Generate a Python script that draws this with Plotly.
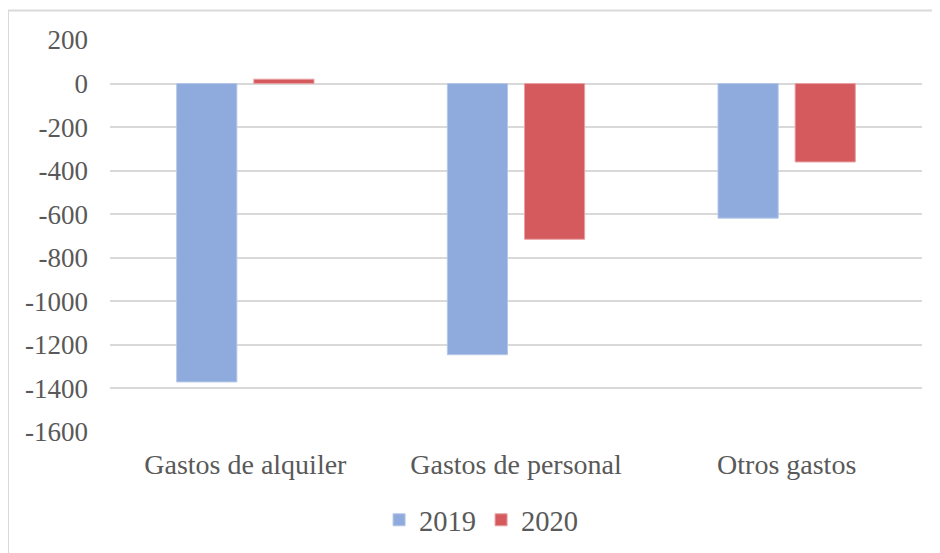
import plotly.graph_objects as go

categories = ["Gastos de alquiler", "Gastos de personal", "Otros gastos"]
series_names = ["2019", "2020"]
values_2019 = [-1370, -1245, -618]
values_2020 = [20, -715, -360]
tick_vals = [200, 0, -200, -400, -600, -800, -1000, -1200, -1400, -1600]
tick_text = ["200", "0", "-200", "-400", "-600", "-800", "-1000", "-1200", "-1400", "-1600"]

font_family = "Liberation Serif, Times New Roman, serif"
text_color = "#595959"

# page content is offset by the 8px body margin, so layout uses figure coords
L, R, T, B = 102, 26, 31.5, 128.5
plot_w = 940 - L - R
plot_h = 553 - T - B

fig = go.Figure()
fig.add_trace(go.Bar(x=categories, y=values_2019, name=series_names[0],
                     marker=dict(color="#8faadc", line=dict(color="#b4c7e7", width=1))))
fig.add_trace(go.Bar(x=categories, y=values_2020, name=series_names[1],
                     marker=dict(color="#d55a5e", line=dict(color="#e8a0a2", width=1))))

fig.update_layout(
    width=940, height=553,
    margin=dict(l=L, r=R, t=T, b=B, autoexpand=False),
    paper_bgcolor="white", plot_bgcolor="white",
    barmode="group", bargap=0.43, bargroupgap=0.22,
    font=dict(family=font_family, size=27, color=text_color),
    showlegend=True,
    legend=dict(orientation="h", x=0.457, xanchor="center",
                y=-(513 - (553 - B)) / plot_h, yanchor="middle",
                font=dict(size=28.5, color=text_color), itemwidth=30,
                traceorder="normal"),
    xaxis=dict(showgrid=False, showline=False, ticks="", tickfont=dict(size=28),
               ticklabelstandoff=13),
    yaxis=dict(range=[-1600, 200], tickvals=tick_vals, ticktext=tick_text,
               showgrid=True, gridcolor="#d9d9d9", gridwidth=1.5, zeroline=True,
               zerolinecolor="#d9d9d9", zerolinewidth=1.5, showline=False,
               ticks="", tickfont=dict(size=27), ticklabelstandoff=21),
    shapes=[dict(type="rect", xref="paper", yref="paper",
                 x0=-L / plot_w, x1=1.2, y0=-0.5, y1=(553 - B - 2) / plot_h,
                 line=dict(color="#d9d9d9", width=2), fillcolor="rgba(0,0,0,0)",
                 layer="below")],
)

fig.write_html("out.html")
